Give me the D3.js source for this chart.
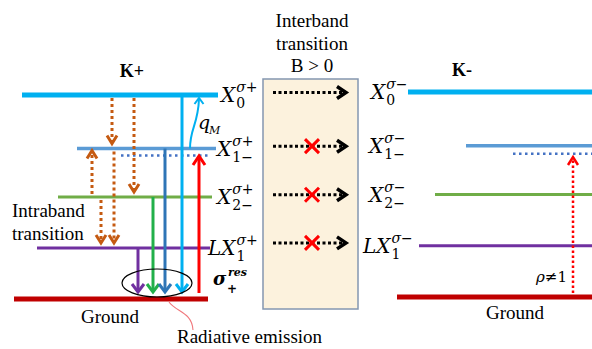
<!DOCTYPE html>
<html><head><meta charset="utf-8">
<script src="https://cdn.jsdelivr.net/npm/d3@7"></script>
<style>body{margin:0;background:#fff}svg{display:block}</style>
</head><body>
<svg id="c" width="592" height="349"></svg>
<script>
// ---- data ----
const levelNames = ["Ground", "LX1", "X2", "X1", "X0"];
const levelEnergy = [0, 1, 2, 2.95, 4];
const levelColors = ["#c00000", "#7030a0", "#70ad47", "#5b9bd5", "#00b0f0"];
const intrabandFrom = ["X0", "X0", "X2", "X2", "X1"];
const intrabandTo = ["X1", "X2", "X1", "LX1", "LX1"];
const emissionFrom = ["LX1", "X2", "X1", "X0"];
const emissionColors = ["#7030a0", "#22b04a", "#2e75b6", "#00b0f0"];
const interbandLevels = ["X0", "X1", "X2", "LX1"];
const interbandAllowed = [true, false, false, false];
const labelLevels = ["X0", "X1", "X2", "LX1"];
const labelMain = ["X", "X", "X", "LX"];
const labelSub = ["0", "1\u2212", "2\u2212", "1"];
const supLeft = "\u03c3+";
const supRight = "\u03c3\u2212";

// ---- layout ----
const svg = d3.select("#c");
const E = {};
levelNames.forEach((n, i) => E[n] = levelEnergy[i]);
const C = {};
levelNames.forEach((n, i) => C[n] = levelColors[i]);
const yL = d3.scaleLinear().domain([0, 4]).range([299, 95]);
const yR = d3.scaleLinear().domain([0, 4]).range([297, 92]);
const extL = {Ground: [14, 208], LX1: [37, 210], X2: [58, 212], X1: [77, 216], X0: [22, 218]};
const extR = {Ground: [397, 592], LX1: [419, 592], X2: [435, 592], X1: [466, 592], X0: [408, 592]};
const thick = {Ground: 5, LX1: 3, X2: 3, X1: 3.5, X0: 5};
const serif = "Liberation Serif";
const mathF = "DejaVu Serif";

function chevron(g, x, tip, dir, color, w, h, sw) {
  g.append("path")
    .attr("d", `M${x - w},${tip - dir * h} L${x},${tip} L${x + w},${tip - dir * h}`)
    .attr("fill", "none").attr("stroke", color).attr("stroke-width", sw);
}
function chevronR(g, tipx, y, color, w, h, sw) {
  g.append("path")
    .attr("d", `M${tipx - h},${y - w} L${tipx},${y} L${tipx - h},${y + w}`)
    .attr("fill", "none").attr("stroke", color).attr("stroke-width", sw);
}

// middle box
svg.append("rect").attr("x", 263).attr("y", 79).attr("width", 95).attr("height", 230)
  .attr("fill", "#fcf2dd").attr("stroke", "#8497b0").attr("stroke-width", 1.5);
["Interband", "transition", "B > 0"].forEach((t, i) => {
  svg.append("text").attr("x", 312).attr("y", 27 + i * 22.5).attr("text-anchor", "middle")
    .attr("font-family", serif).attr("font-size", 19).text(t);
});

// levels
levelNames.forEach(n => {
  svg.append("line").attr("x1", extL[n][0]).attr("x2", extL[n][1])
    .attr("y1", yL(E[n])).attr("y2", yL(E[n]))
    .attr("stroke", C[n]).attr("stroke-width", thick[n]);
  svg.append("line").attr("x1", extR[n][0]).attr("x2", extR[n][1])
    .attr("y1", yR(E[n])).attr("y2", yR(E[n]))
    .attr("stroke", C[n]).attr("stroke-width", thick[n]);
});
svg.append("line").attr("x1", 121).attr("x2", 208).attr("y1", yL(E.X1) + 7).attr("y2", yL(E.X1) + 7)
  .attr("stroke", "#4472c4").attr("stroke-width", 2.5).attr("stroke-dasharray", "2.5,3.5");
svg.append("line").attr("x1", 513).attr("x2", 592).attr("y1", yR(E.X1) + 8).attr("y2", yR(E.X1) + 8)
  .attr("stroke", "#4472c4").attr("stroke-width", 2.5).attr("stroke-dasharray", "2.5,3.5");

// intraband (orange dotted)
const ibX = [112, 134, 92, 101, 114];
const orange = "#c55a11";
const gi = svg.append("g");
intrabandFrom.forEach((f, i) => {
  const y1 = yL(E[f]), y2 = yL(E[intrabandTo[i]]);
  const dir = y2 > y1 ? 1 : -1;
  const tip = dir > 0 ? y2 - 5 : y2 + 2;
  gi.append("line").attr("x1", ibX[i]).attr("x2", ibX[i]).attr("y1", y1 + dir * 3).attr("y2", tip - dir * 2)
    .attr("stroke", orange).attr("stroke-width", 3).attr("stroke-dasharray", "3,3");
  chevron(gi, ibX[i], tip, dir, orange, 5, 8, 3);
});

// emission arrows
const emX = [138, 153, 165, 182];
emissionFrom.forEach((f, i) => {
  const y1 = yL(E[f]);
  svg.append("line").attr("x1", emX[i]).attr("x2", emX[i]).attr("y1", y1).attr("y2", 291)
    .attr("stroke", emissionColors[i]).attr("stroke-width", 3);
  chevron(svg, emX[i], 292, 1, emissionColors[i], 6, 8, 3);
});

// resonant excitation (red up)
svg.append("line").attr("x1", 199).attr("x2", 199).attr("y1", 293).attr("y2", 157)
  .attr("stroke", "#ff0000").attr("stroke-width", 3);
chevron(svg, 199, 156, -1, "#ff0000", 6, 9, 3);

// q_M curved arrow
svg.append("path").attr("d", `M190,${yL(E.X1)} C190,128 198,125 199,99`)
  .attr("fill", "none").attr("stroke", "#00b0f0").attr("stroke-width", 2);
chevron(svg, 199, 98, -1, "#00b0f0", 4.5, 6, 2);
svg.append("text").attr("x", 198).attr("y", 129).attr("font-family", mathF).attr("font-style", "italic")
  .attr("font-size", 19).text("q");
svg.append("text").attr("x", 209).attr("y", 134).attr("font-family", mathF).attr("font-style", "italic")
  .attr("font-size", 11).text("M");

// ellipse around emission
svg.append("ellipse").attr("cx", 157).attr("cy", 283).attr("rx", 35).attr("ry", 14)
  .attr("fill", "none").attr("stroke", "#000").attr("stroke-width", 1.2);
svg.append("path").attr("d", "M169,302 C176,312 192,312 193,330")
  .attr("fill", "none").attr("stroke", "#f0787c").attr("stroke-width", 1.1);

// sigma res label
svg.append("text").attr("x", 213).attr("y", 285).attr("font-family", mathF).attr("font-style", "italic")
  .attr("font-weight", "bold").attr("font-size", 18).text("\u03c3");
svg.append("text").attr("x", 228).attr("y", 276).attr("font-family", mathF).attr("font-style", "italic")
  .attr("font-weight", "bold").attr("font-size", 11).text("res");
svg.append("text").attr("x", 227).attr("y", 293).attr("font-family", mathF)
  .attr("font-weight", "bold").attr("font-size", 12).text("+");

// interband dotted black arrows
const gb = svg.append("g");
interbandLevels.forEach((n, i) => {
  const y = (yL(E[n]) + yR(E[n])) / 2 - 1 - (n === "LX1" ? 3 : 0);
  gb.append("line").attr("x1", 273).attr("x2", 343).attr("y1", y).attr("y2", y)
    .attr("stroke", "#000").attr("stroke-width", 3).attr("stroke-dasharray", "3,2.5");
  chevronR(gb, 346, y, "#000", 6, 9, 3.5);
  if (!interbandAllowed[i]) {
    gb.append("path").attr("d", `M305,${y - 7} L319,${y + 7} M319,${y - 7} L305,${y + 7}`)
      .attr("stroke", "#ff0000").attr("stroke-width", 3);
  }
});

// right red dotted up arrow
svg.append("line").attr("x1", 573).attr("x2", 573).attr("y1", 293).attr("y2", 160)
  .attr("stroke", "#ff0000").attr("stroke-width", 2.5).attr("stroke-dasharray", "2.5,2.5");
chevron(svg, 573, 157, -1, "#ff0000", 5, 8, 2.5);
svg.append("text").attr("x", 536).attr("y", 282).attr("font-family", mathF)
  .attr("font-size", 15).html("<tspan font-style='italic'>\u03c1</tspan>\u22601");

// math labels
function mathLabel(x, y, main, sup, sub) {
  const t = svg.append("text").attr("x", x).attr("y", y + 7).attr("font-family", mathF)
    .attr("font-style", "italic").attr("font-size", 20).text(main);
  const w = t.node().getComputedTextLength();
  svg.append("text").attr("x", x + w + 1).attr("y", y - 3).attr("font-family", mathF)
    .attr("font-size", 14).html(`<tspan font-style='italic'>${sup[0]}</tspan>${sup.slice(1)}`);
  svg.append("text").attr("x", x + w + 1).attr("y", y + 13).attr("font-family", mathF)
    .attr("font-size", 14).text(sub);
}
const labXL = [221, 217, 217, 208];
const labXR = [371, 369, 369, 363];
labelLevels.forEach((n, i) => {
  mathLabel(labXL[i], yL(E[n]), labelMain[i], supLeft, labelSub[i]);
  mathLabel(labXR[i], yR(E[n]), labelMain[i], supRight, labelSub[i]);
});

// plain text labels
svg.append("text").attr("x", 132).attr("y", 77).attr("text-anchor", "middle").attr("font-family", serif)
  .attr("font-weight", "bold").attr("font-size", 18).text("K+");
svg.append("text").attr("x", 462).attr("y", 76).attr("text-anchor", "middle").attr("font-family", serif)
  .attr("font-weight", "bold").attr("font-size", 18).text("K-");
svg.append("text").attr("x", 110).attr("y", 323).attr("text-anchor", "middle").attr("font-family", serif)
  .attr("font-size", 19).text("Ground");
svg.append("text").attr("x", 515).attr("y", 319).attr("text-anchor", "middle").attr("font-family", serif)
  .attr("font-size", 19).text("Ground");
svg.append("text").attr("x", 12).attr("y", 217).attr("font-family", serif).attr("font-size", 19).text("Intraband");
svg.append("text").attr("x", 12).attr("y", 240).attr("font-family", serif).attr("font-size", 19).text("transition");
svg.append("text").attr("x", 177).attr("y", 343).attr("font-family", serif).attr("font-size", 19).text("Radiative emission");
</script>
</body></html>
